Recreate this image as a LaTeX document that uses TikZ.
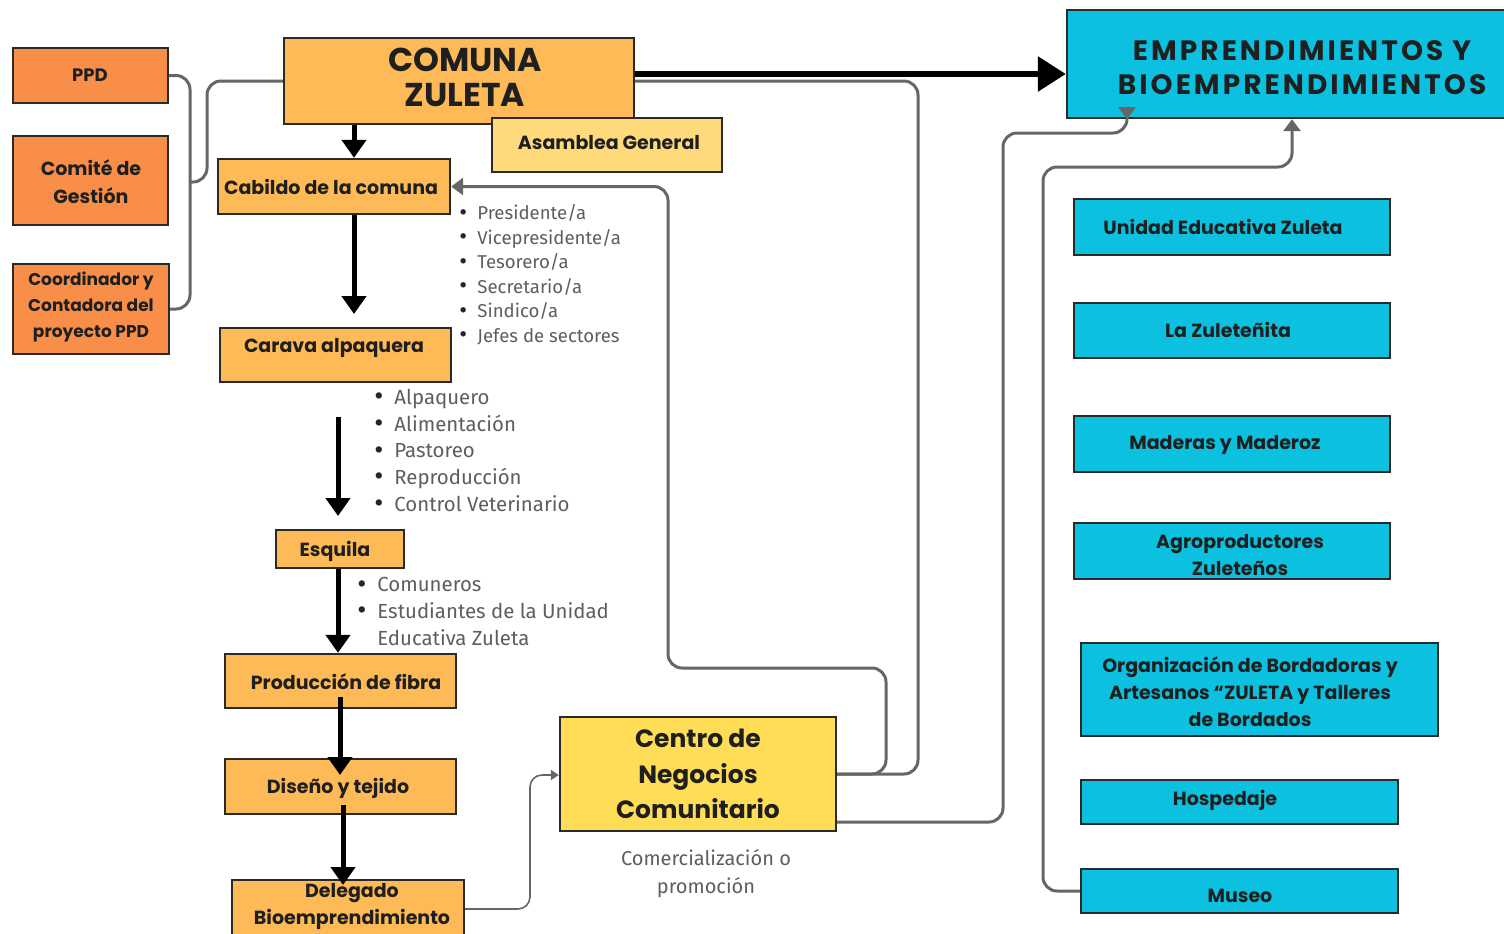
\documentclass[tikz,border=0pt]{standalone}
\usepackage{fontspec}
\setmainfont{Poppins}
\newfontfamily\fira{Fira Sans}
\usetikzlibrary{arrows.meta,fit}
\definecolor{orD}{HTML}{F88E48}
\definecolor{orL}{HTML}{FDBA56}
\definecolor{yeA}{HTML}{FFDA7B}
\definecolor{yeC}{HTML}{FFDD57}
\definecolor{cyB}{HTML}{0CC0DF}
\definecolor{edge}{HTML}{2A2A2A}
\definecolor{gl}{HTML}{666666}
\definecolor{gt}{HTML}{5E5E5E}
\tikzset{
  box/.style={draw=edge, line width=1.2pt, inner sep=0pt},
  lbl/.style={font=\bfseries\fontsize{9.5}{13.5}\selectfont, align=center, inner sep=0pt, text=black!88},
  blist/.style={font=\fira\fontsize{10.2}{13.3}\selectfont, align=left, inner sep=0pt, text=gt, anchor=base west},
  barrow/.style={line width=2.5pt, black, -{Triangle[width=12pt,length=9pt]}},
  gline/.style={line width=1.5pt, gl, rounded corners=7pt},
  garrow/.style={gline, -{Triangle[width=8.5pt,length=6pt]}},
}
\newcommand\bx[6]{\node[box,#6,fit={(#2,#3) (#4,#5)}] (#1) {};}
\newcommand\bl{\makebox[8.5pt][l]{\hspace{-1.5pt}\smash{\raisebox{-0.6pt}{\color{black!85}\fontsize{14}{14}\selectfont\textbullet}}}}
\newcommand\blc{\makebox[8pt][l]{\hspace{-1pt}\smash{\raisebox{-0.4pt}{\color{black!85}\fontsize{12}{12}\selectfont\textbullet}}}}
\newcommand\bs{\makebox[8.5pt][l]{}}
\begin{document}
\begin{tikzpicture}[x=0.5pt,y=-0.5pt]
\clip (0,0) rectangle (1504,933);
\fill[white] (0,0) rectangle (1504,933);

% boxes
\bx{ppd}{13}{48}{168}{103}{fill=orD}
\bx{comite}{13}{136}{168}{225}{fill=orD}
\bx{coord}{13}{264}{169}{354}{fill=orD}
\bx{comuna}{284}{38}{634}{124}{fill=orL}
\bx{asamblea}{492}{118}{722}{172}{fill=yeA}
\bx{cabildo}{218}{159}{450}{214}{fill=orL}
\bx{carava}{220}{328}{451}{382}{fill=orL}
\bx{esquila}{276}{530}{404}{568}{fill=orL}
\bx{prod}{225}{654}{456}{708}{fill=orL}
\bx{diseno}{225}{759}{456}{814}{fill=orL}
\bx{delegado}{232}{880}{464}{960}{fill=orL}
\bx{centro}{560}{717}{836}{831}{fill=yeC}
\bx{empr}{1067}{10}{1540}{118}{fill=cyB}
\bx{unidad}{1074}{199}{1390}{255}{fill=cyB}
\bx{zuletenita}{1074}{303}{1390}{358}{fill=cyB}
\bx{maderas}{1074}{416}{1390}{472}{fill=cyB}
\bx{agro}{1074}{523}{1390}{579}{fill=cyB}
\bx{organiz}{1081}{643}{1438}{736}{fill=cyB}
\bx{hosped}{1081}{780}{1398}{824}{fill=cyB}
\bx{museo}{1081}{869}{1398}{913}{fill=cyB}

% labels
\node[lbl, font=\bfseries\fontsize{9}{13}\selectfont] (ppd-t) at (90,75) {PPD};
\node[lbl, font=\bfseries\fontsize{9.5}{14}\selectfont] (comite-t) at (91,182) {Comité de\\Gestión};
\node[lbl, font=\bfseries\fontsize{8.5}{13}\selectfont] (coord-t) at (91,307) {Coordinador y\\Contadora del\\proyecto PPD};
\node[lbl, font=\bfseries\fontsize{16.5}{17.5}\selectfont] (comuna-t) at (465,77) {COMUNA\\ZULETA};
\node[lbl] (asamblea-t) at (609,143) {Asamblea General};
\node[lbl] (cabildo-t) at (331,187) {Cabildo de la comuna};
\node[lbl] (carava-t) at (334,348) {Carava alpaquera};
\node[lbl] (esquila-t) at (335,551) {Esquila};
\node[lbl] (prod-t) at (346,682) {Producción de fibra};
\node[lbl] (diseno-t) at (338,788) {Diseño y tejido};
\node[lbl] (delegado-t) at (352,906) {Delegado\\Bioemprendimiento};
\node[lbl, font=\bfseries\fontsize{12.5}{17.75}\selectfont] (centro-t) at (698,774) {Centro de\\Negocios\\Comunitario};
\node[lbl, font=\bfseries\fontsize{14}{17}\selectfont\addfontfeature{LetterSpace=11}] (empr-t) at (1302,68) {EMPRENDIMIENTOS Y\\BIOEMPRENDIMIENTOS};
\node[lbl] (unidad-t) at (1223,227) {Unidad Educativa Zuleta};
\node[lbl] (zuletenita-t) at (1228,330) {La Zuleteñita};
\node[lbl] (maderas-t) at (1225,445) {Maderas y Maderoz};
\node[lbl] (agro-t) at (1240,555) {Agroproductores\\Zuleteños};
\node[lbl] (organiz-t) at (1250,692) {Organización de Bordadoras y\\Artesanos “ZULETA y Talleres\\de Bordados};
\node[lbl] (hosped-t) at (1225,800) {Hospedaje};
\node[lbl] (museo-t) at (1240,896) {Museo};
\node[lbl, font=\fira\fontsize{10}{14}\selectfont, text=gt] (comerc) at (706,874) {Comercialización o\\promoción};

% bullet lists (base anchor = baseline of last line)
\node[blist, font=\fira\fontsize{9.3}{12.25}\selectfont] (cablist) at (461,342) {\blc Presidente/a\\\blc Vicepresidente/a\\\blc Tesorero/a\\\blc Secretario/a\\\blc Sindico/a\\\blc Jefes de sectores};
\node[blist] (carlist) at (377,511) {\bl Alpaquero\\\bl Alimentación\\\bl Pastoreo\\\bl Reproducción\\\bl Control Veterinario};
\node[blist] (esqlist) at (360,645) {\bl Comuneros\\\bl Estudiantes de la Unidad\\\bs Educativa Zuleta};

% gray connectors
\coordinate (jn) at (190,182);
\draw[gline] (ppd.east) -- (190,75.5) -- (190,309) -- (coord.east);
\draw[gline] (comuna.west) -- (207,81) -- (207,182) -- (jn);
\draw[garrow] (centro.east) -- (886,774) -- (886,668) -- (668,668) -- (668,186.5) -- (cabildo.east);
\draw[gline] (centro.east) -- (918,774) -- (918,81) -- (comuna.east);
\draw[garrow] (centro.east |- 0,822) -- (1003,822) -- (1003,133) -- (1127,133) -- (empr.south -| 1127,0);
\draw[garrow] (museo.west) -- (1043,891) -- (1043,167) -- (1292,167) -- (empr.south -| 1292,0);
\draw[gl, line width=0.8pt, rounded corners=6pt, -{Triangle[width=5pt,length=4pt]}] (delegado.east |- 0,909) -- (530,909) -- (530,775) -- (centro.west |- 0,775);

% black arrows
\coordinate (ax) at (354,0);
\draw[line width=3pt, black, -{Triangle[width=17pt,length=14pt]}] (comuna.east |- 0,74) -- (empr.west |- 0,74);
\draw[barrow] (comuna.south -| ax) -- (cabildo.north -| ax);
\draw[barrow] (cabildo.south -| ax) -- (354,314);
\coordinate (fa) at (338,417);
\coordinate (fb) at (338,516);
\draw[barrow] (fa) -- (fb);
\draw[barrow] (esquila.south -| 338,0) -- (prod.north -| 338,0);
\draw[barrow] (340,697) -- (340,775);
\draw[barrow] (343,805) -- (343,885);
\end{tikzpicture}
\end{document}
